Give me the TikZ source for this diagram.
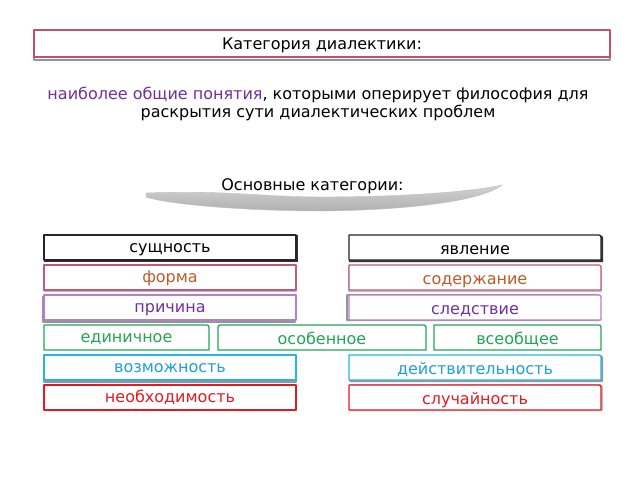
\documentclass[tikz,border=0pt]{standalone}
\usepackage{fontspec}
\setmainfont{DejaVu Sans}
\definecolor{titlered}{RGB}{192,80,110}
\definecolor{formbd}{RGB}{190,90,125}
\definecolor{formtx}{RGB}{190,90,40}
\definecolor{causebd}{RGB}{180,125,205}
\definecolor{causetx}{RGB}{112,48,160}
\definecolor{greenc}{RGB}{35,165,85}
\definecolor{bluebd}{RGB}{40,180,230}
\definecolor{bluetx}{RGB}{30,160,220}
\definecolor{redc}{RGB}{230,25,35}
\definecolor{shad}{RGB}{150,150,150}
\definecolor{purp}{RGB}{112,48,160}
\pgfdeclarelayer{back}
\pgfdeclarelayer{bg}
\pgfsetlayers{back,bg,main}
\tikzset{
  lbl/.style={inner sep=0pt, outer sep=0pt, minimum height=25pt, text height=9.7pt, text depth=0pt, font=\fontsize{16}{19}\selectfont},
  rlbl/.style={lbl, text height=14.2pt},
  bx/.style={line width=1.3pt, fill=white, line join=round},
  shd/.style={draw=shad, line width=2pt, line join=round},
}
% square border
\newcommand\sqb[2]{\draw[#2] (#1.south west) rectangle (#1.north east);}
% rounded top-right
\newcommand\trb[2]{\draw[#2] (#1.south west) -- (#1.north west) -- ([xshift=-5pt]#1.north east) .. controls (#1.north east) .. ([yshift=-5pt]#1.north east) -- (#1.south east) -- cycle;}
% rounded top-left and top-right
\newcommand\ttb[2]{\draw[#2] (#1.south west) -- ([yshift=-5pt]#1.north west) .. controls (#1.north west) .. ([xshift=5pt]#1.north west) -- ([xshift=-5pt]#1.north east) .. controls (#1.north east) .. ([yshift=-5pt]#1.north east) -- (#1.south east) -- cycle;}
\begin{document}
\begin{tikzpicture}[x=1pt,y=-1pt]
\begin{pgfonlayer}{back}
\fill[white] (0,0) rectangle (640,480);
\end{pgfonlayer}
\useasboundingbox (0,0) rectangle (640,480);

% title
\node[lbl, minimum width=576pt, minimum height=27pt, text height=11pt] (title) at (322,43.5) {Категория диалектики:};
% paragraph
\node[font=\fontsize{16}{18}\selectfont, align=center, inner sep=0pt] (para) at (318,104)
  {\textcolor{purp}{наиболее общие понятия}, которыми оперирует философия для\\ раскрытия сути диалектических проблем};
\node[font=\fontsize{16}{18}\selectfont, inner sep=0pt] (osn) at (312.5,186) {Основные категории:};

% rows
\node[lbl, minimum width=252pt] (s1) at (170,247.5) {сущность};
\node[rlbl, minimum width=252pt] (s2) at (475,247.5) {явление};
\node[lbl, minimum width=252pt, text=formtx] (f1) at (170,277.5) {форма};
\node[rlbl, minimum width=252pt, text=formtx] (f2) at (475,277.5) {содержание};
\node[lbl, minimum width=252pt, text=causetx] (c1) at (170,307.5) {причина};
\node[rlbl, minimum width=252pt, text=causetx] (c2) at (475,307.5) {следствие};
\node[lbl, minimum width=165pt, text=greenc] (g1) at (126.5,337.5) {единичное};
\node[rlbl, minimum width=208pt, text=greenc] (g2) at (322,337.5) {особенное};
\node[rlbl, minimum width=167pt, text=greenc] (g3) at (517.5,337.5) {всеобщее};
\node[lbl, minimum width=252pt, text=bluetx] (b1) at (170,367.5) {возможность};
\node[rlbl, minimum width=252pt, text=bluetx] (b2) at (475,367.5) {действительность};
\node[lbl, minimum width=252pt, text=redc] (r1) at (170,397.5) {необходимость};
\node[rlbl, minimum width=252pt, text=redc] (r2) at (475,397.5) {случайность};

\begin{pgfonlayer}{bg}
  % swoosh
  \shade[top color=gray!35, bottom color=gray!62, draw=gray!50, line width=0.4pt]
    (146,193) .. controls (230,190) and (260,197) .. (323,197)
    .. controls (400,197) and (470,192) .. (502,185)
    .. controls (482,201) and (410,210) .. (323,211)
    .. controls (250,211) and (170,205) .. (146,197) -- cycle;

  \sqb{title}{shd, transform canvas={yshift=-2.5pt}}
  \sqb{title}{bx, draw=titlered, line width=1.5pt}

  \sqb{s1}{draw=black!80, line width=2pt, transform canvas={xshift=1.2pt,yshift=-1.2pt}}
  \sqb{s1}{bx, draw=black!85}
  \trb{s2}{draw=black!80, line width=2pt, transform canvas={xshift=1.2pt,yshift=-1.2pt}}
  \trb{s2}{bx, draw=black!85}

  \sqb{f1}{shd, draw=shad!60, transform canvas={yshift=-1pt}}
  \sqb{f1}{bx, draw=formbd}
  \trb{f2}{shd, draw=shad!60, transform canvas={yshift=-1pt}}
  \trb{f2}{bx, draw=formbd}

  \sqb{c1}{shd, transform canvas={xshift=-1.5pt,yshift=-1.5pt}}
  \sqb{c1}{bx, draw=causebd}
  \trb{c2}{shd, transform canvas={xshift=-2pt}}
  \trb{c2}{bx, draw=causebd}

  \trb{g1}{bx, draw=greenc}
  \ttb{g2}{bx, draw=greenc}
  \trb{g3}{bx, draw=greenc}

  \sqb{b1}{shd, transform canvas={yshift=-1.5pt}}
  \sqb{b1}{bx, draw=bluebd}
  \trb{b2}{shd, transform canvas={xshift=1.2pt,yshift=-1pt}}
  \trb{b2}{bx, draw=bluebd}

  \sqb{r1}{bx, draw=redc}
  \trb{r2}{shd, draw=shad!60, transform canvas={xshift=1pt}}
  \trb{r2}{bx, draw=redc}
\end{pgfonlayer}
\end{tikzpicture}
\end{document}
